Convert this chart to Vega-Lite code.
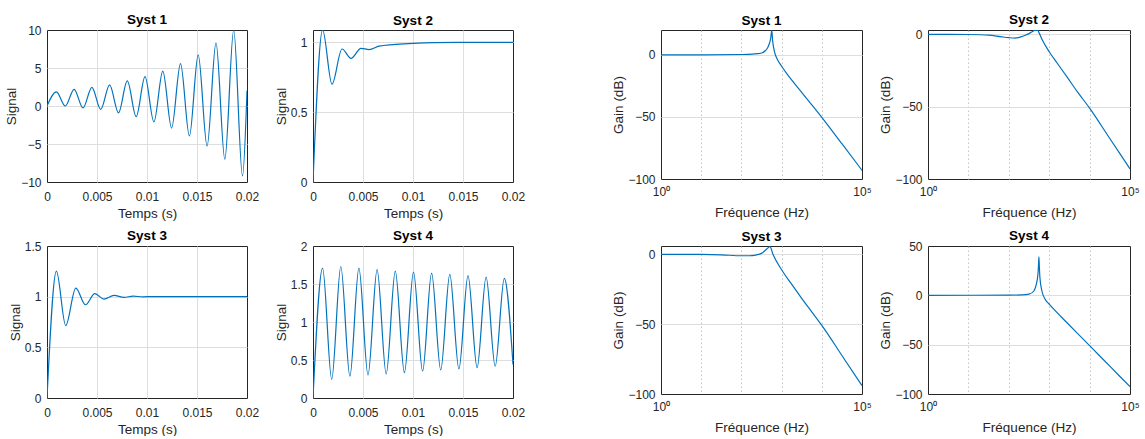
{
  "$schema": "https://vega.github.io/schema/vega-lite/v6.json",
  "autosize": {"type": "pad"},
  "padding": {"left": 4, "top": 12, "right": 0, "bottom": 0},
  "background": "white",
  "columns": 5,
  "align": "each",
  "bounds": "flush",
  "spacing": {"row": 64, "column": 66},
  "datasets": {
    "s1t": [
      {"t": 0, "y": 0}, {"t": 0.00094, "y": 1.85}, {"t": 0.00183, "y": 0.0}, {"t": 0.00271, "y": 2.2},
      {"t": 0.0036, "y": -0.26}, {"t": 0.00449, "y": 2.46}, {"t": 0.00537, "y": -0.44}, {"t": 0.00626, "y": 2.77},
      {"t": 0.00715, "y": -0.9}, {"t": 0.00803, "y": 3.3}, {"t": 0.00892, "y": -1.4}, {"t": 0.0098, "y": 3.87},
      {"t": 0.01069, "y": -2.1}, {"t": 0.01158, "y": 4.6}, {"t": 0.01246, "y": -2.9}, {"t": 0.01335, "y": 5.58},
      {"t": 0.01424, "y": -3.95}, {"t": 0.01512, "y": 6.73}, {"t": 0.01601, "y": -5.27}, {"t": 0.0169, "y": 8.3},
      {"t": 0.01778, "y": -7.0}, {"t": 0.01867, "y": 10.0}, {"t": 0.01955, "y": -9.2}, {"t": 0.02, "y": 2.0}
    ],
    "s2t": [
      {"t": 0, "y": 0}, {"t": 0.00096, "y": 1.088}, {"t": 0.0019, "y": 0.70}, {"t": 0.0029, "y": 0.952},
      {"t": 0.0038, "y": 0.885}, {"t": 0.0048, "y": 0.957}, {"t": 0.0056, "y": 0.948}, {"t": 0.0066, "y": 0.972},
      {"t": 0.008, "y": 0.984}, {"t": 0.01, "y": 0.992}, {"t": 0.012, "y": 0.997}, {"t": 0.015, "y": 0.999}, {"t": 0.02, "y": 1.0}
    ],
    "s3t": [
      {"t": 0, "y": 0}, {"t": 0.00094, "y": 1.253}, {"t": 0.00187, "y": 0.715}, {"t": 0.00288, "y": 1.085},
      {"t": 0.00385, "y": 0.92}, {"t": 0.00478, "y": 1.03}, {"t": 0.0057, "y": 0.976}, {"t": 0.0067, "y": 1.013},
      {"t": 0.0077, "y": 0.993}, {"t": 0.0086, "y": 1.005}, {"t": 0.0096, "y": 0.998}, {"t": 0.0105, "y": 1.001},
      {"t": 0.012, "y": 1.0}, {"t": 0.02, "y": 1.0}
    ],
    "s4t": [
      {"t": 0, "y": 0}, {"t": 0.00096, "y": 1.71}, {"t": 0.00187, "y": 0.246}, {"t": 0.00278, "y": 1.73},
      {"t": 0.00369, "y": 0.286}, {"t": 0.00459, "y": 1.71}, {"t": 0.0055, "y": 0.303}, {"t": 0.00641, "y": 1.69},
      {"t": 0.00732, "y": 0.316}, {"t": 0.00823, "y": 1.67}, {"t": 0.00914, "y": 0.334}, {"t": 0.01005, "y": 1.657},
      {"t": 0.01096, "y": 0.352}, {"t": 0.01186, "y": 1.644}, {"t": 0.01277, "y": 0.369}, {"t": 0.01368, "y": 1.626},
      {"t": 0.01459, "y": 0.382}, {"t": 0.0155, "y": 1.609}, {"t": 0.01641, "y": 0.40}, {"t": 0.01731, "y": 1.59},
      {"t": 0.01822, "y": 0.418}, {"t": 0.01913, "y": 1.574}, {"t": 0.02, "y": 0.44}
    ],
    "s1f": [
      {"f": 1, "g": 0}, {"f": 10, "g": 0}, {"f": 100, "g": 0.25}, {"f": 186.2, "g": 0.5}, {"f": 251.2, "g": 0.9},
      {"f": 323.6, "g": 1.5}, {"f": 398.1, "g": 3.5}, {"f": 446.7, "g": 5.5}, {"f": 501.2, "g": 9.5}, {"f": 537, "g": 13.5},
      {"f": 570.2, "g": 20}, {"f": 595.7, "g": 12}, {"f": 631, "g": 6}, {"f": 691.8, "g": 0.5}, {"f": 758.6, "g": -2.7},
      {"f": 1000, "g": -9.2}, {"f": 1585, "g": -18.2}, {"f": 2818, "g": -28.2}, {"f": 5012, "g": -38.2},
      {"f": 10000, "g": -50.3}, {"f": 31623, "g": -71.6}, {"f": 100000, "g": -93}
    ],
    "s2f": [
      {"f": 1, "g": 0}, {"f": 3.162, "g": 0}, {"f": 10, "g": -0.1}, {"f": 31.62, "g": -0.5}, {"f": 63.1, "g": -1.6},
      {"f": 100, "g": -2.3}, {"f": 141.3, "g": -2.6}, {"f": 199.5, "g": -1.8}, {"f": 263, "g": -0.5}, {"f": 316.2, "g": 0.5},
      {"f": 380.2, "g": 1.8}, {"f": 446.7, "g": 2.8}, {"f": 512.9, "g": 3.0}, {"f": 562.3, "g": 1.0}, {"f": 676.1, "g": -3.9},
      {"f": 1000, "g": -12}, {"f": 1585, "g": -20}, {"f": 2818, "g": -29.8}, {"f": 5012, "g": -39.8},
      {"f": 10000, "g": -51}, {"f": 31623, "g": -72}, {"f": 100000, "g": -93}
    ],
    "s3f": [
      {"f": 1, "g": 0}, {"f": 10, "g": -0.05}, {"f": 31.62, "g": -0.3}, {"f": 100, "g": -1.0}, {"f": 158.5, "g": -1.0},
      {"f": 223.9, "g": -0.5}, {"f": 323.6, "g": 0.9}, {"f": 426.6, "g": 3.8}, {"f": 512.9, "g": 5.5}, {"f": 616.6, "g": -0.3},
      {"f": 1000, "g": -11}, {"f": 1738, "g": -21}, {"f": 3162, "g": -31.5}, {"f": 5623, "g": -41.2},
      {"f": 10000, "g": -50.8}, {"f": 31623, "g": -72.4}, {"f": 100000, "g": -94}
    ],
    "s4f": [
      {"f": 1, "g": 0}, {"f": 100, "g": 0.2}, {"f": 213.8, "g": 0.5}, {"f": 316.2, "g": 1.2}, {"f": 416.9, "g": 4.4},
      {"f": 478.6, "g": 11}, {"f": 524.8, "g": 21}, {"f": 543.3, "g": 30}, {"f": 555.9, "g": 39}, {"f": 568.9, "g": 30},
      {"f": 588.8, "g": 18}, {"f": 660.7, "g": 4.4}, {"f": 794.3, "g": -4}, {"f": 1000, "g": -9}, {"f": 1445, "g": -16},
      {"f": 2570, "g": -26.5}, {"f": 5012, "g": -38.6}, {"f": 10000, "g": -51}, {"f": 31623, "g": -71.8}, {"f": 100000, "g": -92.6}
    ],
    "blank": [{"a": ""}]
  },
  "concat": [
    {
      "title": {"text": "Syst 1", "offset": -2}, "width": 200, "height": 152, "data": {"name": "s1t"},
      "mark": {"type": "line", "interpolate": "monotone", "clip": true},
      "encoding": {
        "x": {"field": "t", "type": "quantitative", "scale": {"domain": [0, 0.02], "nice": false}, "axis": {"values": [0, 0.005, 0.01, 0.015, 0.02], "format": "~r", "title": "Temps (s)", "gridOpacity": {"condition": {"test": "datum.value == 0 || datum.value == 0.02", "value": 0}, "value": 1}}},
        "y": {"field": "y", "type": "quantitative", "scale": {"domain": [-10, 10], "nice": false, "zero": false}, "axis": {"values": [-10, -5, 0, 5, 10], "format": "~r", "title": "Signal", "gridOpacity": {"condition": {"test": "datum.value == -10 || datum.value == 10", "value": 0}, "value": 1}}}
      }
    },
    {
      "title": "Syst 2", "width": 200, "height": 152, "data": {"name": "s2t"},
      "mark": {"type": "line", "interpolate": "monotone", "clip": true},
      "encoding": {
        "x": {"field": "t", "type": "quantitative", "scale": {"domain": [0, 0.02], "nice": false}, "axis": {"values": [0, 0.005, 0.01, 0.015, 0.02], "format": "~r", "title": "Temps (s)", "gridOpacity": {"condition": {"test": "datum.value == 0 || datum.value == 0.02", "value": 0}, "value": 1}}},
        "y": {"field": "y", "type": "quantitative", "scale": {"domain": [0, 1.088], "nice": false, "zero": false}, "axis": {"values": [0, 0.5, 1], "format": "~r", "title": "Signal", "gridOpacity": {"condition": {"test": "datum.value == 0", "value": 0}, "value": 1}}}
      }
    },
    {
      "width": 16, "height": 10, "view": {"stroke": null}, "data": {"name": "blank"},
      "mark": {"type": "text"},
      "encoding": {"text": {"field": "a"}}
    },
    {
      "title": "Syst 1", "width": 201, "height": 149, "data": {"name": "s1f"},
      "mark": {"type": "line", "interpolate": "monotone", "clip": true},
      "encoding": {
        "x": {"field": "f", "type": "quantitative", "scale": {"type": "log", "domain": [1, 100000], "nice": false}, "axis": {"values": [1, 10, 100, 1000, 10000, 100000], "labelExpr": "datum.value == 1 ? '10⁰' : datum.value == 100000 ? '10⁵' : ''", "title": "Fréquence (Hz)", "labelPadding": 7, "titlePadding": 8, "gridDash": [1.5, 2.5], "gridColor": "#c4c4c4", "gridOpacity": {"condition": {"test": "datum.value == 1 || datum.value == 100000", "value": 0}, "value": 1}}},
        "y": {"field": "g", "type": "quantitative", "scale": {"domain": [-100, 20], "nice": false, "zero": false}, "axis": {"values": [-100, -50, 0], "format": "~r", "title": "Gain (dB)", "gridOpacity": {"condition": {"test": "datum.value == -100", "value": 0}, "value": 1}}}
      }
    },
    {
      "title": {"text": "Syst 2", "offset": 2}, "width": 202, "height": 149, "data": {"name": "s2f"},
      "mark": {"type": "line", "interpolate": "monotone", "clip": true},
      "encoding": {
        "x": {"field": "f", "type": "quantitative", "scale": {"type": "log", "domain": [1, 100000], "nice": false}, "axis": {"values": [1, 10, 100, 1000, 10000, 100000], "labelExpr": "datum.value == 1 ? '10⁰' : datum.value == 100000 ? '10⁵' : ''", "title": "Fréquence (Hz)", "labelPadding": 7, "titlePadding": 8, "gridDash": [1.5, 2.5], "gridColor": "#c4c4c4", "gridOpacity": {"condition": {"test": "datum.value == 1 || datum.value == 100000", "value": 0}, "value": 1}}},
        "y": {"field": "g", "type": "quantitative", "scale": {"domain": [-100, 3], "nice": false, "zero": false}, "axis": {"values": [-100, -50, 0], "format": "~r", "title": "Gain (dB)", "gridOpacity": {"condition": {"test": "datum.value == -100", "value": 0}, "value": 1}}}
      }
    },
    {
      "title": {"text": "Syst 3", "offset": -2}, "width": 200, "height": 152, "data": {"name": "s3t"},
      "mark": {"type": "line", "interpolate": "monotone", "clip": true},
      "encoding": {
        "x": {"field": "t", "type": "quantitative", "scale": {"domain": [0, 0.02], "nice": false}, "axis": {"values": [0, 0.005, 0.01, 0.015, 0.02], "format": "~r", "title": "Temps (s)", "gridOpacity": {"condition": {"test": "datum.value == 0 || datum.value == 0.02", "value": 0}, "value": 1}}},
        "y": {"field": "y", "type": "quantitative", "scale": {"domain": [0, 1.5], "nice": false, "zero": false}, "axis": {"values": [0, 0.5, 1, 1.5], "format": "~r", "title": "Signal", "gridOpacity": {"condition": {"test": "datum.value == 0 || datum.value == 1.5", "value": 0}, "value": 1}}}
      }
    },
    {
      "title": {"text": "Syst 4", "offset": -2}, "width": 200, "height": 152, "data": {"name": "s4t"},
      "mark": {"type": "line", "interpolate": "monotone", "clip": true},
      "encoding": {
        "x": {"field": "t", "type": "quantitative", "scale": {"domain": [0, 0.02], "nice": false}, "axis": {"values": [0, 0.005, 0.01, 0.015, 0.02], "format": "~r", "title": "Temps (s)", "gridOpacity": {"condition": {"test": "datum.value == 0 || datum.value == 0.02", "value": 0}, "value": 1}}},
        "y": {"field": "y", "type": "quantitative", "scale": {"domain": [0, 2], "nice": false, "zero": false}, "axis": {"values": [0, 0.5, 1, 1.5, 2], "format": "~r", "title": "Signal", "gridOpacity": {"condition": {"test": "datum.value == 0 || datum.value == 2", "value": 0}, "value": 1}}}
      }
    },
    {
      "width": 16, "height": 10, "view": {"stroke": null}, "data": {"name": "blank"},
      "mark": {"type": "text"},
      "encoding": {"text": {"field": "a"}}
    },
    {
      "title": "Syst 3", "width": 201, "height": 148, "data": {"name": "s3f"},
      "mark": {"type": "line", "interpolate": "monotone", "clip": true},
      "encoding": {
        "x": {"field": "f", "type": "quantitative", "scale": {"type": "log", "domain": [1, 100000], "nice": false}, "axis": {"values": [1, 10, 100, 1000, 10000, 100000], "labelExpr": "datum.value == 1 ? '10⁰' : datum.value == 100000 ? '10⁵' : ''", "title": "Fréquence (Hz)", "labelPadding": 7, "titlePadding": 8, "gridDash": [1.5, 2.5], "gridColor": "#c4c4c4", "gridOpacity": {"condition": {"test": "datum.value == 1 || datum.value == 100000", "value": 0}, "value": 1}}},
        "y": {"field": "g", "type": "quantitative", "scale": {"domain": [-100, 6], "nice": false, "zero": false}, "axis": {"values": [-100, -50, 0], "format": "~r", "title": "Gain (dB)", "gridOpacity": {"condition": {"test": "datum.value == -100", "value": 0}, "value": 1}}}
      }
    },
    {
      "title": {"text": "Syst 4", "offset": -2}, "width": 202, "height": 148, "data": {"name": "s4f"},
      "mark": {"type": "line", "interpolate": "monotone", "clip": true},
      "encoding": {
        "x": {"field": "f", "type": "quantitative", "scale": {"type": "log", "domain": [1, 100000], "nice": false}, "axis": {"values": [1, 10, 100, 1000, 10000, 100000], "labelExpr": "datum.value == 1 ? '10⁰' : datum.value == 100000 ? '10⁵' : ''", "title": "Fréquence (Hz)", "labelPadding": 7, "titlePadding": 8, "gridDash": [1.5, 2.5], "gridColor": "#c4c4c4", "gridOpacity": {"condition": {"test": "datum.value == 1 || datum.value == 100000", "value": 0}, "value": 1}}},
        "y": {"field": "g", "type": "quantitative", "scale": {"domain": [-100, 50], "nice": false, "zero": false}, "axis": {"values": [-100, -50, 0, 50], "format": "~r", "title": "Gain (dB)", "gridOpacity": {"condition": {"test": "datum.value == -100 || datum.value == 50", "value": 0}, "value": 1}}}
      }
    }
  ],
  "config": {
    "font": "Liberation Sans",
    "view": {"stroke": "#262626", "strokeWidth": 1},
    "axis": {
      "domain": false, "ticks": false, "grid": true, "gridColor": "#dedede", "gridWidth": 1,
      "labelFontSize": 12, "labelColor": "#262626", "labelPadding": 6, "labelFlush": false, "labelOverlap": false,
      "titleFontSize": 13.5, "titleFontWeight": "normal", "titleColor": "#262626", "titlePadding": 2
    },
    "axisX": {"labelPadding": 9, "titlePadding": 4},
    "title": {"fontSize": 13.5, "fontWeight": "bold", "color": "#000000", "offset": 3},
    "line": {"color": "#0072BD", "strokeWidth": 1.2}
  }
}
